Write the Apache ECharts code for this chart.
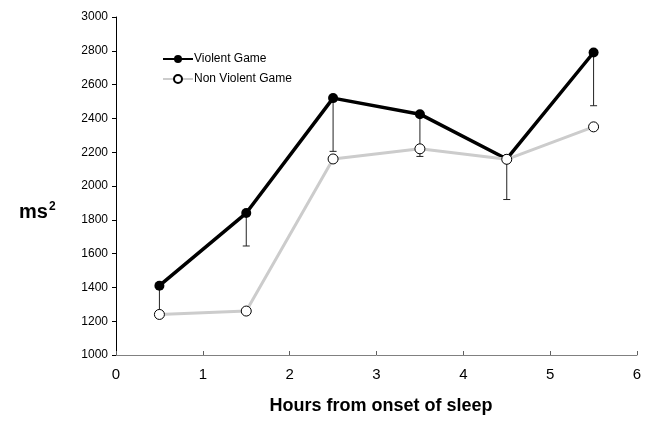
<!DOCTYPE html>
<html>
<head>
<meta charset="utf-8">
<script src="https://cdn.jsdelivr.net/npm/echarts@6/dist/echarts.min.js"></script>
<style>html,body{margin:0;padding:0;background:#fff}#c{width:652px;height:435px}</style>
</head>
<body>
<div id="c"></div>
<script>
const hours = [0.5, 1.5, 2.5, 3.5, 4.5, 5.5];
const violent = [1410, 1840, 2520, 2425, 2160, 2790];
const nonViolent = [1240, 1260, 2160, 2220, 2158, 2350];
const violentErrLow = [1250, 1645, 2205, 2175, 1920, 2475];
const yTicks = [1000, 3000, 200];
const xTicks = [0, 6, 1];

const chart = echarts.init(document.getElementById('c'));
const font = 'Liberation Sans, Arial, sans-serif';
chart.setOption({
  animation: false,
  backgroundColor: '#fff',
  grid: { left: 116, top: 17, right: 15, bottom: 80 },
  title: [
    { text: 'ms{s|2}', left: 14, top: 196, textStyle: { fontFamily: font, fontSize: 20, fontWeight: 'bold', color: '#000',
      rich: { s: { fontSize: 12, fontWeight: 'bold', verticalAlign: 'top', padding: [0,0,10,1], fontFamily: font, color: '#000' } } } },
    { text: 'Hours from onset of sleep', left: 376, textAlign: 'center', top: 392, textStyle: { fontFamily: font, fontSize: 18, fontWeight: 'bold', color: '#000' } }
  ],
  legend: {
    left: 157, top: 48, orient: 'vertical', itemGap: 8, itemWidth: 30, itemHeight: 10,
    textStyle: { fontFamily: font, fontSize: 12, color: '#000', padding: [0,0,0,-4] },
    data: ['Violent Game', 'Non Violent Game']
  },
  xAxis: {
    type: 'value', min: xTicks[0], max: xTicks[1], interval: xTicks[2],
    axisLine: { lineStyle: { color: '#808080', width: 1 } },
    axisTick: { inside: true, length: 4, lineStyle: { color: '#606060' } },
    splitLine: { show: false },
    axisLabel: { fontFamily: font, fontSize: 15, color: '#000', margin: 12 }
  },
  yAxis: {
    type: 'value', min: yTicks[0], max: yTicks[1], interval: yTicks[2],
    axisLine: { show: true, lineStyle: { color: '#000', width: 1 } },
    axisTick: { show: true, length: 4, lineStyle: { color: '#000' } },
    splitLine: { show: false },
    axisLabel: { fontFamily: font, fontSize: 12, color: '#000', margin: 8, formatter: v => String(v) }
  },
  series: [
    {
      type: 'custom', name: 'err', z: 1,
      data: hours.map((h, i) => [h, violent[i], violentErrLow[i]]),
      renderItem: function (params, api) {
        const top = api.coord([api.value(0), api.value(1)]);
        const bot = api.coord([api.value(0), api.value(2)]);
        return { type: 'group', children: [
          { type: 'line', shape: { x1: top[0], y1: top[1], x2: bot[0], y2: bot[1] }, style: { stroke: '#222', lineWidth: 1 } },
          { type: 'line', shape: { x1: bot[0] - 3.5, y1: bot[1], x2: bot[0] + 3.5, y2: bot[1] }, style: { stroke: '#222', lineWidth: 1 } }
        ] };
      }
    },
    {
      type: 'line', name: 'Non Violent Game', z: 4,
      data: hours.map((h, i) => [h, nonViolent[i]]),
      lineStyle: { color: '#cccccc', width: 3 },
      itemStyle: { color: '#fff', borderColor: '#000', borderWidth: 1 },
      symbol: 'circle', symbolSize: 10
    },
    {
      type: 'line', name: 'Violent Game', z: 3,
      data: hours.map((h, i) => [h, violent[i]]),
      lineStyle: { color: '#000', width: 3.5 },
      itemStyle: { color: '#000' },
      symbol: 'circle', symbolSize: 10
    }
  ]
});
</script>
</body>
</html>
